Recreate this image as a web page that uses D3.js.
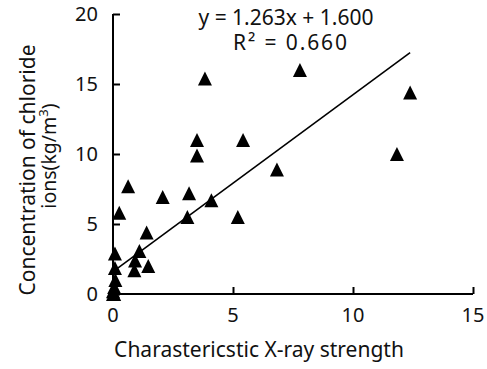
<!DOCTYPE html>
<html>
<head>
<meta charset="utf-8">
<script src="https://cdn.jsdelivr.net/npm/d3@7"></script>
<style>
  html, body { margin: 0; padding: 0; background: #fff; }
  svg { display: block; font-family: "Noto Sans", sans-serif; }
</style>
</head>
<body>
<svg id="chart" width="487" height="369"></svg>
<script>
// Data
const xValues = [7.79, 3.83, 12.38, 3.5, 5.42, 3.5, 11.83, 6.83, 0.63, 2.07, 3.17, 4.1,
                 0.26, 3.1, 5.2, 1.4, 0.08, 1.1, 0.92, 1.47, 0.89, 0.08,
                 0.1, 0.05, 0.0, 0.05, 0.0];
const yValues = [16.0, 15.4, 14.4, 11.0, 11.0, 9.9, 10.0, 8.9, 7.7, 6.93, 7.2, 6.7,
                 5.8, 5.5, 5.5, 4.4, 2.9, 3.07, 2.4, 2.0, 1.7, 1.86,
                 1.0, 0.5, 0.2, 0.0, 0.0];
const xTicks = [0, 5, 10, 15];
const yTicks = [0, 5, 10, 15, 20];
const slope = 1.263;
const intercept = 1.600;
const equationLabel = "y = 1.263x + 1.600";
const r2Label = "R² = 0.660";
const xTitle = "Charastericstic X-ray strength";
const yTitleLine1 = "Concentration of chloride";
const yTitleLine2 = "ions(kg/m";

const svg = d3.select("#chart");
const x = d3.scaleLinear().domain([0, 15]).range([113, 473]);
const y = d3.scaleLinear().domain([0, 20]).range([294, 14]);

const axisColor = "#000";

// Y axis
const yAxis = svg.append("g").attr("transform", `translate(${x(0)},0)`)
  .call(d3.axisRight(y).tickValues(yTicks).tickSize(7).tickFormat(""));
yAxis.select(".domain").attr("d", `M0,${y(20)}V${y(0)}`).attr("stroke", axisColor).attr("stroke-width", 2);
yAxis.selectAll(".tick line").attr("stroke", axisColor).attr("stroke-width", 2);

// X axis
const xAxis = svg.append("g").attr("transform", `translate(0,${y(0)})`)
  .call(d3.axisTop(x).tickValues(xTicks).tickSize(7).tickFormat(""));
xAxis.select(".domain").attr("d", `M${x(0)},0H${x(15)}`).attr("stroke", axisColor).attr("stroke-width", 2);
xAxis.selectAll(".tick line").attr("stroke", axisColor).attr("stroke-width", 2);

// Tick labels
svg.append("g").selectAll("text").data(yTicks).join("text")
  .attr("x", 98).attr("y", d => y(d)).attr("dy", "0.36em")
  .attr("text-anchor", "end").attr("font-size", 20).attr("fill", "#111")
  .text(d => d);
svg.append("g").selectAll("text").data(xTicks).join("text")
  .attr("x", d => x(d)).attr("y", 322)
  .attr("text-anchor", "middle").attr("font-size", 20).attr("fill", "#111")
  .text(d => d);

// Titles
svg.append("text").attr("x", 259).attr("y", 357).attr("text-anchor", "middle")
  .attr("font-size", 21).attr("fill", "#111").text(xTitle);

svg.append("text").attr("transform", "translate(35,170) rotate(-90)")
  .attr("text-anchor", "middle").attr("font-size", 21).attr("fill", "#111").text(yTitleLine1);
const t2 = svg.append("text").attr("transform", "translate(56,156) rotate(-90)")
  .attr("text-anchor", "middle").attr("font-size", 19.5).attr("fill", "#111");
t2.append("tspan").text(yTitleLine2);
t2.append("tspan").attr("font-size", 13).attr("dy", -8).text("3");
t2.append("tspan").attr("dy", 8).text(")");

// Trendline
const xMin = d3.min(xValues), xMax = d3.max(xValues);
svg.append("line")
  .attr("x1", x(xMin)).attr("y1", y(slope * xMin + intercept))
  .attr("x2", x(xMax)).attr("y2", y(slope * xMax + intercept))
  .attr("stroke", "#000").attr("stroke-width", 1.6);

// Markers
const tri = "M0,-7L7,7L-7,7Z";
svg.append("g").selectAll("path").data(xValues.map((v, i) => [v, yValues[i]])).join("path")
  .attr("transform", d => `translate(${x(d[0])},${y(d[1])})`)
  .attr("d", tri).attr("fill", "#000");

// Equation
svg.append("text").attr("x", 286).attr("y", 25).attr("text-anchor", "middle")
  .attr("font-size", 21).attr("fill", "#111").text(equationLabel);
svg.append("text").attr("x", 290).attr("y", 50).attr("text-anchor", "middle")
  .attr("font-size", 21).attr("fill", "#111")
  .attr("textLength", 114).attr("lengthAdjust", "spacing").text(r2Label);
</script>
</body>
</html>
